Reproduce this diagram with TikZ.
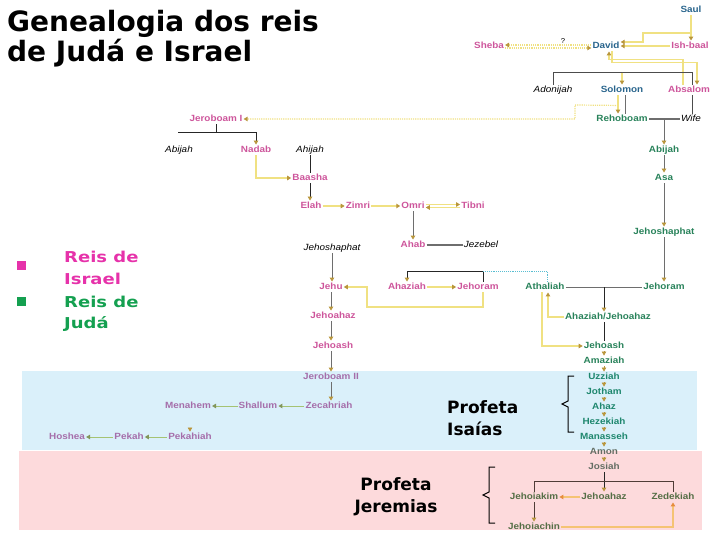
\documentclass[tikz,border=0pt]{standalone}
\usepackage{fontspec}
\usetikzlibrary{arrows.meta,calc}
\setmainfont{Liberation Sans}
\newfontfamily\knfam{Liberation Sans}[FakeStretch=1.1]
\newfontfamily\ttlfam{DejaVu Sans}
\newfontfamily\legfam{DejaVu Sans}[FakeStretch=1.2]
\newcommand\kf{\knfam\bfseries\fontsize{9}{10}\selectfont}
\newcommand\itf{\knfam\itshape\fontsize{9}{10}\selectfont}
\definecolor{isr}{RGB}{205,85,155}
\definecolor{jud}{RGB}{40,130,90}
\definecolor{dav}{RGB}{40,100,140}
\definecolor{jud2}{RGB}{30,135,110}
\definecolor{gry2}{RGB}{100,110,100}
\definecolor{jud3}{RGB}{85,110,70}
\definecolor{isr2}{RGB}{165,110,170}
\definecolor{yel}{RGB}{240,225,130}
\definecolor{gld}{RGB}{185,150,60}
\definecolor{lgr}{RGB}{110,110,110}
\definecolor{grn}{RGB}{165,195,115}
\definecolor{grnd}{RGB}{130,150,90}
\definecolor{org}{RGB}{245,195,115}
\definecolor{orgd}{RGB}{230,140,60}
\definecolor{tea}{RGB}{90,190,210}
\definecolor{bandb}{RGB}{218,240,250}
\definecolor{bandp}{RGB}{253,218,220}
\definecolor{legp}{RGB}{230,50,170}
\definecolor{legg}{RGB}{20,160,80}
\tikzset{
 k/.style={font=\kf, inner sep=1pt, text height=6.6pt, text depth=1.9pt},
 ki/.style={k, text=isr}, kj/.style={k, text=jud}, kd/.style={k, text=dav},
 kj2/.style={k, text=jud2}, kg/.style={k, text=gry2}, kj3/.style={k, text=jud3},
 ki2/.style={k, text=isr2},
 pn/.style={font=\itf, inner sep=1pt, text height=6.6pt, text depth=1.9pt},
 ar/.style={-{Triangle[width=4.5pt,length=4pt,color=gld]}},
 ag/.style={-{Triangle[width=4.5pt,length=4pt,color=grnd]}},
 ao/.style={-{Triangle[width=4.5pt,length=4pt,color=orgd]}},
 yl/.style={draw=yel, line width=1.2pt},
 gl/.style={draw=lgr, line width=0.9pt},
 bl/.style={draw=black!85, line width=0.9pt},
 fam/.style={draw=black!70, line width=0.8pt},
 famd/.style={draw={rgb,255:red,80;green,60;blue,55}, line width=0.9pt},
 gnl/.style={draw=grn, line width=1pt},
 ol/.style={draw=org, line width=1.1pt},
 sm/.style={draw=gld, line width=0.6pt},
 thk/.style={draw=lgr, line width=1.8pt},
 brc/.style={draw=black, line width=1pt},
}
\begin{document}
\begin{tikzpicture}[x=1pt,y=-1pt]
\useasboundingbox (0,0) rectangle (720,540);
% bands
\fill[bandb] (22,371) rectangle (697,450);
\fill[bandp] (19,451) rectangle (702,530);
% title
\node[anchor=base west, inner sep=0, font=\ttlfam\bfseries\fontsize{28}{30}\selectfont] (t1) at (7,32) {Genealogia dos reis};
\node[anchor=base west, inner sep=0, font=\ttlfam\bfseries\fontsize{28}{30}\selectfont] (t2) at (7,62) {de Judá e Israel};
% legend
\fill[legp] (17,261) rectangle (26,270);
\fill[legg] (17,297) rectangle (26,306);
\node[anchor=base west, inner sep=0, text=legp, font=\legfam\bfseries\fontsize{15}{18}\selectfont] (l1) at (64,262) {Reis de};
\node[anchor=base west, inner sep=0, text=legp, font=\legfam\bfseries\fontsize{15}{18}\selectfont] (l2) at (64,284) {Israel};
\node[anchor=base west, inner sep=0, text=legg, font=\legfam\bfseries\fontsize{15}{18}\selectfont] (l3) at (64,307) {Reis de};
\node[anchor=base west, inner sep=0, text=legg, font=\legfam\bfseries\fontsize{15}{18}\selectfont] (l4) at (64,328) {Judá};
% prophets
\node[anchor=base west, inner sep=0, font=\ttlfam\bfseries\fontsize{17}{20}\selectfont] (p1) at (447,413) {Profeta};
\node[anchor=base west, inner sep=0, font=\ttlfam\bfseries\fontsize{17}{20}\selectfont] (p2) at (447,435) {Isaías};
\node[anchor=base, inner sep=0, font=\ttlfam\bfseries\fontsize{17}{20}\selectfont] (p3) at (396,490) {Profeta};
\node[anchor=base, inner sep=0, font=\ttlfam\bfseries\fontsize{17}{20}\selectfont] (p4) at (396,512) {Jeremias};
\draw[brc] (574,376) -- (568,376) -- (568,401) -- (562,404) -- (568,407) -- (568,432) -- (574,432);
\draw[brc] (495,467) -- (489,467) -- (489,492) -- (483,495) -- (489,498) -- (489,523) -- (495,523);
% nodes top
\node[kd] (saul) at (691,10) {Saul};
\node[ki] (sheba) at (489,46) {Sheba};
\node[kd] (david) at (606,46) {David};
\node[ki] (ishbaal) at (690,46) {Ish-baal};
\node[pn] (adonijah) at (553,90) {Adonijah};
\node[kd] (solomon) at (622,90) {Solomon};
\node[ki] (absalom) at (689,90) {Absalom};
\node[kj] (rehoboam) at (622,119) {Rehoboam};
\node[pn] (wife) at (691,119) {Wife};
\node[inner sep=0, font=\knfam\fontsize{7}{8}\selectfont] (qm) at (563,41) {?};
% Israel
\node[ki] (jeroboamI) at (216,119) {Jeroboam I};
\node[pn] (abijahI) at (179,150) {Abijah};
\node[ki] (nadab) at (256,150) {Nadab};
\node[pn] (ahijah) at (310,150) {Ahijah};
\node[ki] (baasha) at (310,178) {Baasha};
\node[ki] (elah) at (311,206) {Elah};
\node[ki] (zimri) at (358,206) {Zimri};
\node[ki] (omri) at (413,206) {Omri};
\node[ki] (tibni) at (473,206) {Tibni};
\node[pn] (jehoshI) at (332,248) {Jehoshaphat};
\node[ki] (ahab) at (413,245) {Ahab};
\node[pn] (jezebel) at (481,245) {Jezebel};
\node[ki] (jehu) at (331,287) {Jehu};
\node[ki] (ahaziahI) at (407,287) {Ahaziah};
\node[ki] (jehoramI) at (478,287) {Jehoram};
\node[ki] (jehoahazI) at (333,316) {Jehoahaz};
\node[ki] (jehoashI) at (333,346) {Jehoash};
\node[ki2] (jeroboamII) at (331,377) {Jeroboam II};
\node[ki2] (zecahriah) at (329,406) {Zecahriah};
\node[ki2] (shallum) at (258,406) {Shallum};
\node[ki2] (menahem) at (188,406) {Menahem};
\node[ki2] (pekahiah) at (190,437) {Pekahiah};
\node[ki2] (pekah) at (129,437) {Pekah};
\node[ki2] (hoshea) at (67,437) {Hoshea};
% Judah
\node[kj] (abijahJ) at (664,150) {Abijah};
\node[kj] (asa) at (664,178) {Asa};
\node[kj] (jehoshJ) at (664,232) {Jehoshaphat};
\node[kj] (athaliah) at (545,287) {Athaliah};
\node[kj] (jehoramJ) at (664,287) {Jehoram};
\node[kj] (ahaziahJ) at (608,317) {Ahaziah/Jehoahaz};
\node[kj] (jehoashJ) at (604,346) {Jehoash};
\node[kj] (amaziah) at (604,361) {Amaziah};
\node[kj2] (uzziah) at (604,377) {Uzziah};
\node[kj2] (jotham) at (604,392) {Jotham};
\node[kj2] (ahaz) at (604,407) {Ahaz};
\node[kj2] (hezekiah) at (604,422) {Hezekiah};
\node[kj2] (manasseh) at (604,437) {Manasseh};
\node[kg] (amon) at (604,452) {Amon};
\node[kg] (josiah) at (604,467) {Josiah};
\node[kj3] (jehoiakim) at (534,497) {Jehoiakim};
\node[kj3] (jehoahazJ) at (604,497) {Jehoahaz};
\node[kj3] (zedekiah) at (673,497) {Zedekiah};
\node[kj3] (jehoiachin) at (534,527) {Jehoiachin};
% ---- connectors top
\draw[yl,ar] (saul.south) -- (saul.south |- ishbaal.north);
\draw[yl,ar] (saul.south) |- (643,33) |- ([yshift=4pt]david.east);
\draw[yl,ar] (ishbaal.west) -- (david.east);
\draw[yl,densely dotted,ar] ([yshift=1pt]david.west) -- ([yshift=1pt]sheba.east);
\draw[yl,densely dotted,ar] ([yshift=-2pt]sheba.east) -- ([yshift=-2pt]david.west);
\draw[yl,ar] ([xshift=-6pt]absalom.north) |- ([xshift=3pt,yshift=-8pt]david.south) -- ([xshift=3pt]david.south);
\draw[yl,ar] ([xshift=6pt]david.south) -- ([xshift=6pt,yshift=-11pt]david.south) -| ([xshift=8pt]absalom.north);
\draw[fam] (adonijah.north) |- (692,72) -- ([xshift=3pt]absalom.north);
\draw[fam] ([xshift=3pt]absalom.south) -- ([xshift=1pt]wife.north);
\draw[yl,ar] (solomon.north |- adonijah.north) ++(0,-12) -- (solomon.north);
\draw[gl] ([xshift=3pt]solomon.south) -- ([xshift=3pt]rehoboam.north);
\draw[yl,ar] ([xshift=-4pt]solomon.south) -- ([xshift=-4pt]rehoboam.north);
\draw[yl,densely dotted,ar] ([xshift=-4pt,yshift=-10pt]solomon.south) -- (575,105) |- (jeroboamI.east);
\draw[thk] (rehoboam.east) -- (wife.west);
\draw[gl,ar] (rehoboam.east -| abijahJ.north) -- (abijahJ.north);
\draw[gl,ar] (abijahJ.south) -- (asa.north);
\draw[gl,ar] (asa.south) -- (jehoshJ.north);
\draw[gl,ar] (jehoshJ.south) -- (jehoramJ.north);
% ---- Israel
\draw[bl] (jeroboamI.south) -- (216,132);
\draw[bl,ar] (178,132) -| (nadab.north);
\draw[yl,ar] (nadab.south) |- (baasha.west);
\draw[bl] (ahijah.south) -- (baasha.north);
\draw[bl,ar] (baasha.south) -- (baasha.south |- elah.north);
\draw[yl,ar] (elah.east) -- (zimri.west);
\draw[yl,ar] (zimri.east) -- (omri.west);
\draw[yl,ar] ([yshift=1.5pt]omri.east) -- ([yshift=1.5pt]tibni.west);
\draw[yl,ar] ([yshift=-1.5pt]tibni.west) -- ([yshift=-1.5pt]omri.east);
\draw[gl,ar] (omri.south) -- (ahab.north);
\draw[thk] (ahab.east) -- (jezebel.west);
\draw[bl] (407,271) -- (483,271) -- ([xshift=5pt]jehoramI.north);
\draw[bl,ar] (407,271) -- (ahaziahI.north);
\draw[tea,densely dotted,line width=0.9pt] (483,271) -- (547,271) -- ([xshift=2pt]athaliah.north);
\draw[yl,ar] (ahaziahI.east) -- (jehoramI.west);
\draw[yl,ar] ([xshift=5pt]jehoramI.south) |- (367,307) |- (jehu.east);
\draw[gl,ar] (jehoshI.south) -- (jehoshI.south |- jehu.north);
\draw[gl,ar] (jehu.south) -- (jehu.south |- jehoahazI.north);
\draw[gl,ar] (jehoahazI.south -| jehu.south) -- (jehu.south |- jehoashI.north);
\draw[gl,ar] (jehoashI.south -| jehu.south) -- (jehu.south |- jeroboamII.north);
\draw[gl,ar] (jeroboamII.south) -- (jeroboamII.south |- zecahriah.north);
\draw[gnl,ag] (zecahriah.west) -- (shallum.east);
\draw[gnl,ag] (shallum.west) -- (menahem.east);
\draw[sm,ar] ([yshift=4pt]pekahiah.north) -- (pekahiah.north);
\draw[gnl,ag] (pekahiah.west) -- (pekah.east);
\draw[gnl,ag] (pekah.west) -- (hoshea.east);
% ---- Judah lower
\draw[gl] (athaliah.east) -- (jehoramJ.west);
\draw[bl,ar] (jehoashJ.north |- athaliah.east) -- (jehoashJ.north |- ahaziahJ.north);
\draw[yl,ar] (ahaziahJ.west) -| ([xshift=3pt]athaliah.south);
\draw[yl,ar] ([xshift=-3pt]athaliah.south) |- (jehoashJ.west);
\draw[bl] (ahaziahJ.south -| jehoashJ.north) -- (jehoashJ.north);
\draw[sm,ar] (jehoashJ.south) -- (amaziah.north);
\draw[sm,ar] (amaziah.south) -- (uzziah.north);
\draw[sm,ar] (uzziah.south) -- (jotham.north);
\draw[sm,ar] (jotham.south) -- (ahaz.north);
\draw[sm,ar] (ahaz.south) -- (hezekiah.north);
\draw[sm,ar] (hezekiah.south) -- (manasseh.north);
\draw[sm,ar] (manasseh.south) -- (amon.north);
\draw[sm,ar] (amon.south) -- (josiah.north);
\draw[bl,ar] (josiah.south) -- (josiah.south |- jehoahazJ.north);
\draw[famd] (jehoiakim.north) -- (534,481) -- (673,481) -- (zedekiah.north);
\draw[famd,ar] (jehoiakim.south) -- (jehoiachin.north);
\draw[ol,ao] (jehoahazJ.west) -- (jehoiakim.east);
\draw[ol,ao] (jehoiachin.east) -| (zedekiah.south);
\end{tikzpicture}
\end{document}
